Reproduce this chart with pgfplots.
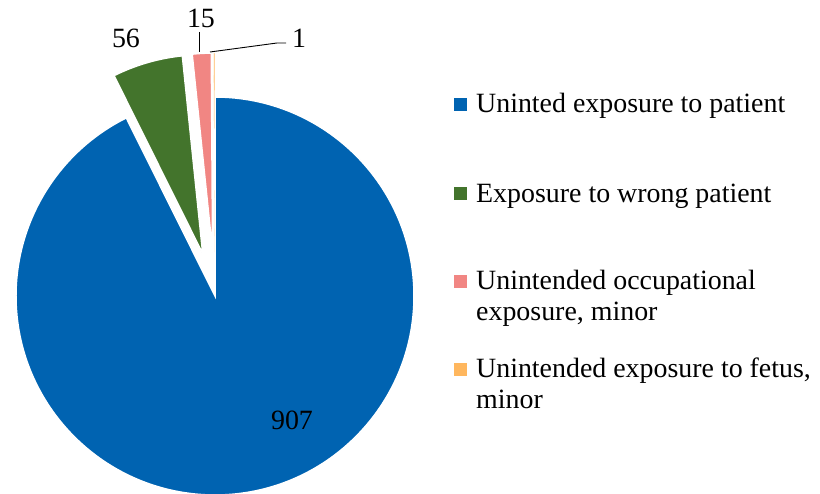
\documentclass[border=0pt]{standalone}
\usepackage{pgfplots}
\pgfplotsset{compat=1.18}
\usepackage{pgfplotstable}
\usepackage{fontspec}
\setmainfont{Liberation Serif}
\usetikzlibrary{calc}

\definecolor{pieblue}{RGB}{0,99,177}
\definecolor{piegreen}{RGB}{67,116,44}
\definecolor{piepink}{RGB}{241,134,131}
\definecolor{pieorange}{RGB}{255,183,94}

% event counts per category
\pgfplotstableread{
value
907
56
15
1
}\piedata

\begin{document}
\begin{tikzpicture}
\pgfplotstablegetelem{0}{value}\of\piedata \edef\vA{\pgfplotsretval}
\pgfplotstablegetelem{1}{value}\of\piedata \edef\vB{\pgfplotsretval}
\pgfplotstablegetelem{2}{value}\of\piedata \edef\vC{\pgfplotsretval}
\pgfplotstablegetelem{3}{value}\of\piedata \edef\vD{\pgfplotsretval}
\pgfmathsetmacro\total{\vA+\vB+\vC+\vD}
% slice boundaries, clockwise from 12 o'clock
\pgfmathsetmacro\aA{90-\vA/\total*360}
\pgfmathsetmacro\aB{\aA-\vB/\total*360}
\pgfmathsetmacro\aC{\aB-\vC/\total*360}
\pgfmathsetmacro\aD{\aC-\vD/\total*360}
\pgfmathsetmacro\mB{(\aA+\aB)/2}
\pgfmathsetmacro\mC{(\aB+\aC)/2}
\pgfmathsetmacro\mD{(\aC+\aD)/2}
\def\R{199bp}
\def\ex{44bp}
\clip (0,0) rectangle (820bp,494bp);
\begin{axis}[at={(0,0)}, anchor=south west,
  width=820bp, height=494bp, scale only axis, hide axis,
  xmin=0, xmax=820, ymin=0, ymax=494, y dir=reverse, clip=false]
\fill[pieblue, draw=white, line width=1.5bp] (axis cs:215,296) -- ++(90:\R)
  arc[start angle=90, end angle=\aA, radius=\R] -- cycle;
\fill[piegreen, draw=white, line width=1.5bp] ($(axis cs:215,296)+(\mB:\ex)$) -- ++(\aA:\R)
  arc[start angle=\aA, end angle=\aB, radius=\R] -- cycle;
\fill[piepink, draw=white, line width=1.5bp] ($(axis cs:215,296)+(\mC:\ex)$) -- ++(\aB:\R)
  arc[start angle=\aB, end angle=\aC, radius=\R] -- cycle;
\fill[pieorange, draw=white, line width=0.4bp] ($(axis cs:215,296)+(\mD:\ex)$) -- ++(\aC:\R)
  arc[start angle=\aC, end angle=\aD, radius=\R] -- cycle;

% data labels
\begin{scope}[every node/.style={font=\fontsize{28}{32}\selectfont, inner sep=0}]
\node at (axis cs:292,420) {\vA};
\node at (axis cs:126,38) {\vB};
\node at (axis cs:201,18) {\vC};
\node at (axis cs:299,38) {\vD};
\end{scope}
\draw[line width=0.9bp] (axis cs:199,32) -- (axis cs:199,52);
\draw[line width=0.9bp] (axis cs:210,52) -- (axis cs:277,43) -- (axis cs:286,43);

% legend
\fill[pieblue] (axis cs:454,98) rectangle (axis cs:467,111);
\fill[piegreen] (axis cs:454,187) rectangle (axis cs:467,200);
\fill[piepink] (axis cs:454,275) rectangle (axis cs:467,288);
\fill[pieorange] (axis cs:454,363) rectangle (axis cs:467,376);
\begin{scope}[every node/.style={font=\fontsize{28}{32}\selectfont, inner sep=0, anchor=base west}]
\node at (axis cs:476,113) {Uninted exposure to patient};
\node at (axis cs:476,202) {Exposure to wrong patient};
\node at (axis cs:476,289) {Unintended occupational};
\node at (axis cs:476,320) {exposure, minor};
\node at (axis cs:476,377) {Unintended exposure to fetus,};
\node at (axis cs:476,408) {minor};
\end{scope}
\end{axis}
\end{tikzpicture}
\end{document}
